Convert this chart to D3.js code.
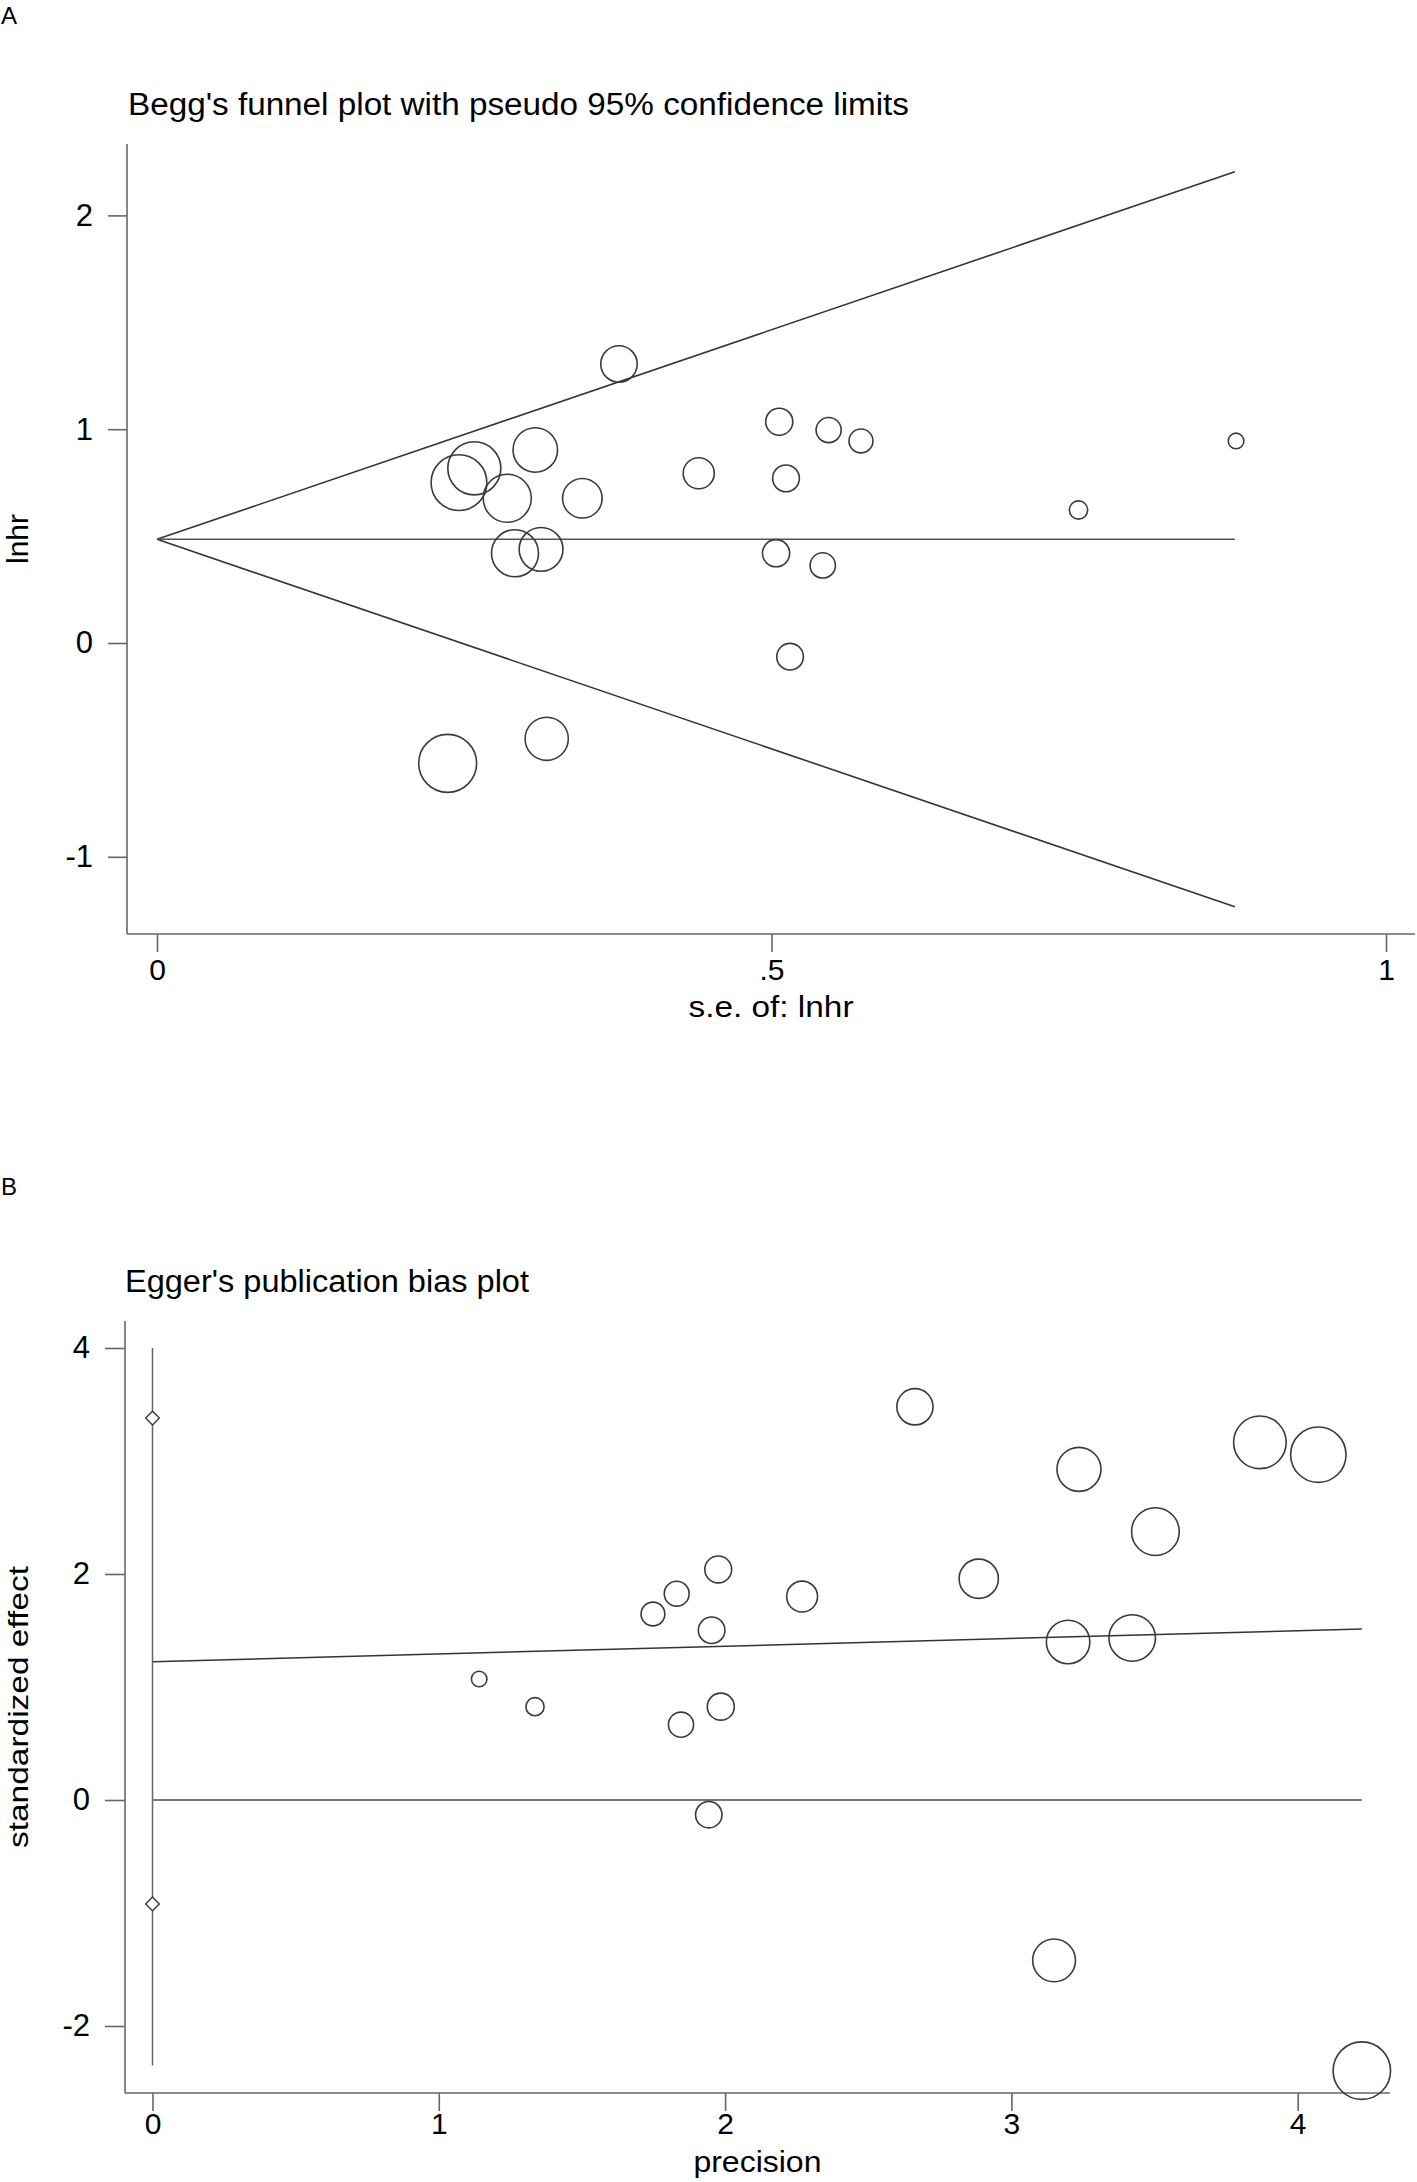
<!DOCTYPE html>
<html>
<head>
<meta charset="utf-8">
<script src="https://cdn.jsdelivr.net/npm/d3@7"></script>
<style>
  html, body { margin: 0; padding: 0; background: #fff; }
  svg { display: block; }
  text { font-family: "Liberation Sans", Arial, sans-serif; fill: #000; }
</style>
</head>
<body>
<svg id="chart" width="1417" height="2182"></svg>
<script>
// ---------- Panel A: Begg's funnel plot ----------
const seA   = [0.2457, 0.2582, 0.3078, 0.2850, 0.3461, 0.2913, 0.3125, 0.3171, 0.2365, 0.3759,
               0.4408, 0.5063, 0.5465, 0.5728, 0.5118, 0.7498, 0.5037, 0.5417, 0.5151, 0.8780];
const lnhrA = [0.750, 0.817, 0.903, 0.677, 0.677, 0.420, 0.438, -0.448, -0.563, 1.305,
               0.794, 1.035, 0.996, 0.945, 0.770, 0.622, 0.420, 0.363, -0.064, 0.945];
const pooledA = 0.485;          // pooled lnhr (apex of funnel)
const funnelMaxSe = 0.877;      // end of funnel lines
const xTicksA = [0, 0.5, 1];
const xTickLabelsA = ["0", ".5", "1"];
const yTicksA = [-1, 0, 1, 2];

// ---------- Panel B: Egger's plot ----------
const precB = [1.141, 1.336, 1.748, 1.831, 1.846, 1.953, 1.943, 1.976, 1.985, 2.269,
               2.663, 3.236, 2.886, 3.503, 3.868, 4.072, 3.198, 3.422, 3.149, 4.224];
const zB    = [1.071, 0.826, 1.646, 1.826, 0.667, 1.502, -0.130, 2.040, 0.826, 1.800,
               3.480, 2.926, 1.958, 2.375, 3.165, 3.056, 1.398, 1.434, -1.419, -2.395];
const eggerLine = [[0, 1.224], [4.224, 1.513]];
const zeroLine  = [[0, 0], [4.224, 0]];
const interceptCI = [-0.92, 3.38];
const vertLineB = [-2.35, 4];
const xTicksB = [0, 1, 2, 3, 4];
const yTicksB = [-2, 0, 2, 4];

const svg = d3.select("#chart");
const AXIS = "#666", MARK = "#3a3a3a";
const plainFmt = d => String(d);   // hyphen-minus like the reference

// ===== Panel A =====
const xA = d3.scaleLinear().domain([0, 1]).range([157, 1386]);
const yA = d3.scaleLinear().domain([0, 1]).range([643, 429.2]);
const xAext = [-0.0244, 1.0236];
const yAext = [-1.361, 2.334];
const rA = d3.scaleSqrt().domain([0, 1]).range([0, 6.85]);

svg.append("text").attr("x", 1).attr("y", 24).style("font-size", "24px").text("A");
svg.append("text").attr("x", 128).attr("y", 115).style("font-size", "31px")
  .attr("textLength", 781).attr("lengthAdjust", "spacingAndGlyphs")
  .text("Begg's funnel plot with pseudo 95% confidence limits");

const gA = svg.append("g");
const axAx = d3.axisBottom(xA).tickValues(xTicksA).tickFormat((d, i) => xTickLabelsA[i]).tickSize(18).tickSizeOuter(0);
const gAx = gA.append("g").attr("transform", `translate(0,${yA(yAext[0])})`).call(axAx);
gAx.select(".domain").remove();
gAx.append("line").attr("x1", xA(xAext[0])).attr("x2", xA(xAext[1])).attr("stroke", AXIS).attr("stroke-width", 1.6);
gAx.selectAll(".tick line").attr("stroke", AXIS).attr("stroke-width", 1.6);
gAx.selectAll(".tick text").attr("y", 25).attr("dy", "0.71em").style("font-size", "30px").attr("fill", "#000");

const axAy = d3.axisLeft(yA).tickValues(yTicksA).tickFormat(plainFmt).tickSize(19).tickSizeOuter(0);
const gAy = gA.append("g").attr("transform", `translate(${xA(xAext[0])},0)`).call(axAy);
gAy.select(".domain").remove();
gAy.append("line").attr("y1", yA(yAext[0])).attr("y2", yA(yAext[1])).attr("stroke", AXIS).attr("stroke-width", 1.6);
gAy.selectAll(".tick line").attr("stroke", AXIS).attr("stroke-width", 1.6);
gAy.selectAll(".tick text").attr("x", -34).style("font-size", "31px").attr("fill", "#000");

svg.append("text").attr("x", (xA(xAext[0]) + xA(xAext[1])) / 2).attr("y", 1017)
  .attr("text-anchor", "middle").style("font-size", "29px")
  .attr("textLength", 165).attr("lengthAdjust", "spacingAndGlyphs").text("s.e. of: lnhr");
svg.append("text").attr("transform", `translate(28,${(yA(yAext[0]) + yA(yAext[1])) / 2}) rotate(-90)`)
  .attr("text-anchor", "middle").style("font-size", "30px").text("lnhr");

const lineA = d3.line().x(d => xA(d[0])).y(d => yA(d[1]));
const fUp  = [[0, pooledA], [funnelMaxSe, pooledA + 1.96 * funnelMaxSe]];
const fLo  = [[0, pooledA], [funnelMaxSe, pooledA - 1.96 * funnelMaxSe]];
const fMid = [[0, pooledA], [funnelMaxSe, pooledA]];
[fUp, fLo].forEach(l => gA.append("path").attr("d", lineA(l)).attr("fill", "none").attr("stroke", "#333").attr("stroke-width", 1.6));
gA.append("path").attr("d", lineA(fMid)).attr("fill", "none").attr("stroke", "#555").attr("stroke-width", 1.6);

gA.selectAll("circle.pt").data(seA.map((s, i) => ({ se: s, y: lnhrA[i] })))
  .join("circle").attr("class", "pt")
  .attr("cx", d => xA(d.se)).attr("cy", d => yA(d.y))
  .attr("r", d => rA(1 / (d.se * d.se)))
  .attr("fill", "none").attr("stroke", MARK).attr("stroke-width", 1.6);

// ===== Panel B =====
const xB = d3.scaleLinear().domain([0, 1]).range([152.5, 438.8]);
const yB = d3.scaleLinear().domain([0, 1]).range([1800, 1687]);
const xBext = [-0.096, 4.322];
const yBext = [-2.593, 4.239];
const rB = d3.scaleSqrt().domain([0, 1]).range([0, 6.8]);

svg.append("text").attr("x", 1).attr("y", 1195).style("font-size", "24px").text("B");
svg.append("text").attr("x", 125).attr("y", 1292).style("font-size", "31px")
  .attr("textLength", 404).attr("lengthAdjust", "spacingAndGlyphs")
  .text("Egger's publication bias plot");

const gB = svg.append("g");
const axBx = d3.axisBottom(xB).tickValues(xTicksB).tickFormat(plainFmt).tickSize(18).tickSizeOuter(0);
const gBx = gB.append("g").attr("transform", `translate(0,${yB(yBext[0])})`).call(axBx);
gBx.select(".domain").remove();
gBx.append("line").attr("x1", xB(xBext[0])).attr("x2", xB(xBext[1])).attr("stroke", AXIS).attr("stroke-width", 1.6);
gBx.selectAll(".tick line").attr("stroke", AXIS).attr("stroke-width", 1.6);
gBx.selectAll(".tick text").attr("y", 20).attr("dy", "0.71em").style("font-size", "30px").attr("fill", "#000");

const axBy = d3.axisLeft(yB).tickValues(yTicksB).tickFormat(plainFmt).tickSize(20).tickSizeOuter(0);
const gBy = gB.append("g").attr("transform", `translate(${xB(xBext[0])},0)`).call(axBy);
gBy.select(".domain").remove();
gBy.append("line").attr("y1", yB(yBext[0])).attr("y2", yB(yBext[1])).attr("stroke", AXIS).attr("stroke-width", 1.6);
gBy.selectAll(".tick line").attr("stroke", AXIS).attr("stroke-width", 1.6);
gBy.selectAll(".tick text").attr("x", -35).style("font-size", "31px").attr("fill", "#000");

svg.append("text").attr("x", (xB(xBext[0]) + xB(xBext[1])) / 2).attr("y", 2172)
  .attr("text-anchor", "middle").style("font-size", "30px")
  .attr("textLength", 128).attr("lengthAdjust", "spacingAndGlyphs").text("precision");
svg.append("text").attr("transform", `translate(28,${(yB(yBext[0]) + yB(yBext[1])) / 2}) rotate(-90)`)
  .attr("text-anchor", "middle").style("font-size", "28px")
  .attr("textLength", 282).attr("lengthAdjust", "spacingAndGlyphs").text("standardized effect");

const lineB = d3.line().x(d => xB(d[0])).y(d => yB(d[1]));
gB.append("path").attr("d", lineB(zeroLine)).attr("fill", "none").attr("stroke", "#777").attr("stroke-width", 1.8);
gB.append("path").attr("d", lineB(eggerLine)).attr("fill", "none").attr("stroke", "#333").attr("stroke-width", 1.5);
gB.append("path").attr("d", lineB([[0, vertLineB[0]], [0, vertLineB[1]]])).attr("fill", "none").attr("stroke", "#666").attr("stroke-width", 1.5);
const diamond = d3.symbol().type(d3.symbolDiamond2).size(120);
gB.selectAll("path.dia").data(interceptCI).join("path").attr("class", "dia")
  .attr("d", diamond).attr("transform", d => `translate(${xB(0)},${yB(d)})`)
  .attr("fill", "#fff").attr("stroke", MARK).attr("stroke-width", 1.4);

gB.selectAll("circle.pt").data(precB.map((p, i) => ({ p: p, z: zB[i] })))
  .join("circle").attr("class", "pt")
  .attr("cx", d => xB(d.p)).attr("cy", d => yB(d.z))
  .attr("r", d => rB(d.p * d.p))
  .attr("fill", "none").attr("stroke", MARK).attr("stroke-width", 1.6);
</script>
</body>
</html>
